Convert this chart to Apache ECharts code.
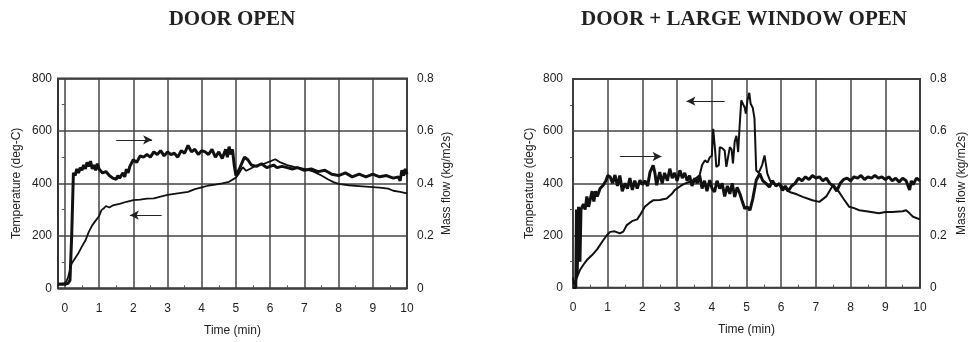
<!DOCTYPE html>
<html>
<head>
<meta charset="utf-8">
<title>Door open / Door + large window open</title>
<script src="https://cdn.jsdelivr.net/npm/echarts@6/dist/echarts.min.js"></script>
<style>
  html, body { margin: 0; padding: 0; background: #fff; }
  #chart { width: 969px; height: 342px; }
</style>
</head>
<body>
<div id="chart"></div>
<script>
// tick labels on the time axis (min)
const timeTicks = [0, 1, 2, 3, 4, 5, 6, 7, 8, 9, 10];
const halfTicks = [0.5, 1.5, 2.5, 3.5, 4.5, 5.5, 6.5, 7.5, 8.5, 9.5];

// DOOR OPEN: temperature (deg-C), [time, value]
const doorTemp = [
  [-0.2, 18], [-0.1, 18], [0, 20], [0.05, 28], [0.1, 45], [0.2, 95], [0.3, 115], [0.4, 135],
  [0.5, 160], [0.6, 182], [0.7, 215], [0.8, 240], [0.9, 258], [1.0, 275], [1.07, 298],
  [1.15, 306], [1.2, 314], [1.3, 308], [1.4, 316], [1.6, 322], [1.8, 330], [2.0, 336],
  [2.2, 338], [2.4, 342], [2.6, 343], [2.8, 350], [3.0, 356], [3.2, 360], [3.4, 364],
  [3.6, 368], [3.8, 378], [4.0, 385], [4.2, 392], [4.4, 395], [4.6, 400], [4.8, 406],
  [5.0, 422], [5.1, 440], [5.2, 462], [5.3, 448], [5.45, 458], [5.6, 468], [5.8, 474],
  [6.0, 484], [6.15, 492], [6.3, 480], [6.5, 470], [6.7, 463], [7.0, 455], [7.25, 446],
  [7.5, 430], [7.7, 415], [7.85, 405], [8.0, 398], [8.3, 393], [8.6, 390], [8.9, 387],
  [9.2, 384], [9.45, 380], [9.6, 372], [9.8, 368], [10, 362]
];

// DOOR OPEN: mass flow (kg/m2s), [time, value]
const doorFlow = [
  [-0.2, 0.015], [0, 0.015], [0.1, 0.02], [0.15, 0.03], [0.2, 0.2], [0.25, 0.44], [0.3, 0.43],
  [0.35, 0.455], [0.4, 0.44], [0.45, 0.46], [0.5, 0.45], [0.55, 0.47], [0.6, 0.455],
  [0.65, 0.48], [0.7, 0.465], [0.75, 0.485], [0.8, 0.455], [0.85, 0.47], [0.9, 0.45],
  [0.95, 0.475], [1.0, 0.455], [1.1, 0.44], [1.2, 0.445], [1.3, 0.43], [1.4, 0.42],
  [1.5, 0.415], [1.55, 0.43], [1.6, 0.42], [1.7, 0.44], [1.75, 0.425], [1.8, 0.455],
  [1.85, 0.44], [1.9, 0.465], [2.0, 0.49], [2.1, 0.48], [2.2, 0.505], [2.3, 0.5], [2.4, 0.51],
  [2.5, 0.5], [2.6, 0.52], [2.7, 0.51], [2.8, 0.525], [2.9, 0.505], [3.0, 0.52], [3.1, 0.51],
  [3.2, 0.515], [3.3, 0.5], [3.4, 0.525], [3.5, 0.515], [3.6, 0.545], [3.7, 0.52], [3.8, 0.53],
  [3.9, 0.51], [4.0, 0.525], [4.1, 0.52], [4.2, 0.51], [4.3, 0.53], [4.4, 0.5], [4.5, 0.52],
  [4.6, 0.495], [4.7, 0.53], [4.75, 0.5], [4.8, 0.54], [4.85, 0.51], [4.9, 0.53], [4.95, 0.47],
  [5.0, 0.43], [5.1, 0.455], [5.25, 0.5], [5.35, 0.49], [5.45, 0.47], [5.6, 0.465],
  [5.75, 0.475], [5.9, 0.46], [6.0, 0.465], [6.1, 0.47], [6.2, 0.46], [6.35, 0.465],
  [6.5, 0.46], [6.65, 0.455], [6.8, 0.46], [7.0, 0.45], [7.2, 0.455], [7.4, 0.445],
  [7.6, 0.45], [7.8, 0.435], [8.0, 0.43], [8.2, 0.44], [8.4, 0.425], [8.6, 0.435],
  [8.8, 0.425], [9.0, 0.435], [9.2, 0.425], [9.4, 0.43], [9.6, 0.42], [9.75, 0.425],
  [9.8, 0.41], [9.85, 0.45], [9.9, 0.43], [9.95, 0.455], [10, 0.435]
];

// DOOR + LARGE WINDOW OPEN: temperature (deg-C)
const windowTemp = [
  [0, 40], [0.03, 10], [0.1, 35], [0.2, 68], [0.3, 88], [0.4, 106], [0.55, 125], [0.7, 148],
  [0.85, 178], [0.97, 200], [1.07, 214], [1.2, 216], [1.35, 208], [1.45, 215], [1.55, 240],
  [1.7, 255], [1.85, 262], [1.93, 278], [2.07, 310], [2.2, 325], [2.31, 335], [2.5, 336],
  [2.7, 342], [2.85, 360], [2.93, 374], [3.1, 390], [3.22, 399], [3.35, 405], [3.46, 412],
  [3.55, 420], [3.65, 431], [3.72, 470], [3.8, 488], [3.88, 480], [3.94, 500], [4.0, 505],
  [4.04, 609], [4.1, 520], [4.13, 463], [4.2, 470], [4.23, 539], [4.3, 535], [4.37, 526],
  [4.42, 463], [4.47, 470], [4.52, 539], [4.57, 530], [4.61, 476], [4.66, 560], [4.71, 582],
  [4.76, 520], [4.8, 616], [4.85, 718], [4.9, 720], [4.95, 690], [4.98, 667], [5.03, 720],
  [5.08, 747], [5.12, 705], [5.18, 690], [5.23, 648], [5.28, 450], [5.35, 440], [5.45, 470],
  [5.52, 507], [5.6, 437], [5.68, 410], [5.76, 399], [5.9, 395], [6.0, 392], [6.24, 367],
  [6.45, 358], [6.62, 348], [6.9, 335], [7.1, 329], [7.3, 350], [7.5, 395], [7.65, 370],
  [7.8, 340], [7.96, 310], [8.1, 305], [8.25, 297], [8.5, 292], [8.82, 285], [9.0, 290],
  [9.2, 290], [9.5, 293], [9.6, 297], [9.7, 285], [9.8, 272], [10, 262]
];

// DOOR + LARGE WINDOW OPEN: mass flow (kg/m2s)
const windowFlow = [
  [0, 0], [0.08, 0], [0.1, 0.3], [0.12, 0.05], [0.16, 0.31], [0.2, 0.1], [0.23, 0.3],
  [0.27, 0.3], [0.3, 0.32], [0.35, 0.3], [0.4, 0.35], [0.45, 0.31], [0.5, 0.34], [0.55, 0.37],
  [0.6, 0.33], [0.65, 0.37], [0.7, 0.35], [0.78, 0.38], [0.87, 0.393], [0.95, 0.41],
  [1.0, 0.43], [1.07, 0.425], [1.14, 0.4], [1.21, 0.432], [1.28, 0.39], [1.35, 0.43],
  [1.42, 0.37], [1.5, 0.4], [1.57, 0.38], [1.64, 0.42], [1.71, 0.375], [1.78, 0.41],
  [1.85, 0.38], [1.93, 0.412], [2.0, 0.395], [2.07, 0.41], [2.15, 0.39], [2.22, 0.443],
  [2.31, 0.469], [2.36, 0.44], [2.41, 0.393], [2.5, 0.443], [2.57, 0.4], [2.64, 0.44],
  [2.72, 0.41], [2.79, 0.456], [2.86, 0.42], [2.93, 0.44], [3.0, 0.41], [3.08, 0.45],
  [3.15, 0.42], [3.22, 0.44], [3.29, 0.41], [3.36, 0.43], [3.43, 0.39], [3.51, 0.42],
  [3.58, 0.4], [3.65, 0.43], [3.72, 0.38], [3.79, 0.41], [3.86, 0.37], [3.94, 0.412],
  [4.01, 0.38], [4.08, 0.367], [4.15, 0.41], [4.23, 0.38], [4.3, 0.4], [4.37, 0.35],
  [4.45, 0.39], [4.52, 0.36], [4.59, 0.4], [4.66, 0.348], [4.73, 0.385], [4.81, 0.36],
  [4.88, 0.33], [4.95, 0.303], [5.02, 0.31], [5.1, 0.297], [5.18, 0.34], [5.28, 0.412],
  [5.38, 0.437], [5.47, 0.41], [5.56, 0.4], [5.66, 0.386], [5.75, 0.41], [5.85, 0.39],
  [5.95, 0.399], [6.04, 0.373], [6.12, 0.39], [6.2, 0.37], [6.3, 0.39], [6.4, 0.4],
  [6.5, 0.42], [6.6, 0.41], [6.7, 0.425], [6.8, 0.415], [6.9, 0.43], [7.0, 0.42],
  [7.1, 0.425], [7.2, 0.41], [7.3, 0.42], [7.4, 0.4], [7.5, 0.39], [7.6, 0.37], [7.7, 0.4],
  [7.8, 0.415], [7.9, 0.42], [8.0, 0.41], [8.1, 0.425], [8.2, 0.42], [8.3, 0.43],
  [8.4, 0.415], [8.5, 0.425], [8.6, 0.42], [8.7, 0.43], [8.8, 0.42], [8.9, 0.425],
  [9.0, 0.415], [9.1, 0.425], [9.2, 0.41], [9.3, 0.42], [9.4, 0.405], [9.5, 0.42],
  [9.6, 0.41], [9.7, 0.375], [9.75, 0.41], [9.8, 0.395], [9.9, 0.42], [10, 0.41]
];

// pointer arrows (start, end) in time / deg-C
const doorArrows = [
  [[1.5, 566], [2.55, 566]],
  [[2.83, 279], [1.9, 279]]
];
const windowArrows = [
  [[4.37, 715], [3.27, 715]],
  [[1.35, 503], [2.55, 503]]
];

const chart = echarts.init(document.getElementById('chart'));

const labelFont = { color: '#222', fontSize: 12, fontFamily: 'Liberation Sans, Arial, sans-serif' };
const nameFont = { color: '#222', fontSize: 12, fontFamily: 'Liberation Sans, Arial, sans-serif' };
const gridLine = { show: true, lineStyle: { color: '#444', width: 1.5 } };

function timeAxis(gridIndex, min) {
  return [{
    type: 'value', gridIndex: gridIndex, min: min, max: 10,
    name: 'Time (min)', nameLocation: 'middle', nameGap: 36, nameTextStyle: nameFont,
    axisLine: { show: false },
    axisTick: { show: false, customValues: timeTicks },
    axisLabel: Object.assign({ margin: 14, customValues: timeTicks }, labelFont),
    splitLine: gridLine
  }, {
    // small half-minute ticks along the bottom edge
    type: 'value', gridIndex: gridIndex, min: min, max: 10, position: 'bottom',
    axisLine: { show: false },
    axisLabel: { show: false },
    axisTick: { show: true, inside: true, length: 3, customValues: halfTicks, lineStyle: { color: '#555' } },
    splitLine: { show: false }
  }];
}

function tempAxis(gridIndex, gap, margin) {
  return {
    type: 'value', gridIndex: gridIndex, min: 0, max: 800, interval: 200,
    name: 'Temperature (deg-C)', nameLocation: 'middle', nameGap: gap, nameTextStyle: nameFont,
    axisLine: { show: false },
    axisTick: { show: false },
    minorTick: { show: true, splitNumber: 2, length: 3, lineStyle: { color: '#555' } },
    axisLabel: Object.assign({ margin: margin }, labelFont),
    splitLine: gridLine
  };
}

function flowAxis(gridIndex, gap) {
  return {
    type: 'value', gridIndex: gridIndex, position: 'right', min: 0, max: 0.8, interval: 0.2,
    name: 'Mass flow (kg/m2s)', nameLocation: 'middle', nameGap: gap, nameTextStyle: nameFont,
    axisLine: { show: false },
    axisTick: { show: false },
    axisLabel: Object.assign({ margin: 10 }, labelFont),
    splitLine: { show: false }
  };
}

function arrowMarks(list) {
  return {
    silent: true, animation: false,
    symbol: ['none', 'arrow'], symbolSize: [7, 9],
    label: { show: false },
    lineStyle: { color: '#222', width: 1.2, type: 'solid' },
    data: list.map(a => [{ coord: a[0] }, { coord: a[1] }])
  };
}

function curve(data, xi, yi, width, marks) {
  const s = {
    type: 'line', data: data, xAxisIndex: xi, yAxisIndex: yi,
    showSymbol: false, symbol: 'none', smooth: false, clip: true,
    lineStyle: { color: '#111', width: width }
  };
  if (marks) s.markLine = marks;
  return s;
}

const titleFont = 'bold 21px "Liberation Serif", "Times New Roman", serif';

const option = {
  animation: false,
  backgroundColor: '#fff',
  graphic: [
    { type: 'text', x: 232, y: 20, style: { text: 'DOOR OPEN', font: titleFont, fill: '#222', textAlign: 'center', textVerticalAlign: 'middle' } },
    { type: 'text', x: 744, y: 20, style: { text: 'DOOR + LARGE WINDOW OPEN', font: titleFont, fill: '#222', textAlign: 'center', textVerticalAlign: 'middle' } }
  ],
  grid: [
    { left: 58, width: 349, top: 78.5, height: 209.8, show: true, borderColor: '#333', borderWidth: 2 },
    { left: 573, width: 348, top: 79, height: 208.7, show: true, borderColor: '#333', borderWidth: 2 }
  ],
  xAxis: timeAxis(0, -0.2).concat(timeAxis(1, 0)),
  yAxis: [tempAxis(0, 35, 6), flowAxis(0, 34), tempAxis(1, 37, 10), flowAxis(1, 36)],
  series: [
    curve(doorTemp, 0, 0, 1.8, arrowMarks(doorArrows)),
    curve(doorFlow, 0, 1, 3),
    curve(windowTemp, 2, 2, 2, arrowMarks(windowArrows)),
    curve(windowFlow, 2, 3, 3)
  ]
};

chart.setOption(option);
</script>
</body>
</html>
